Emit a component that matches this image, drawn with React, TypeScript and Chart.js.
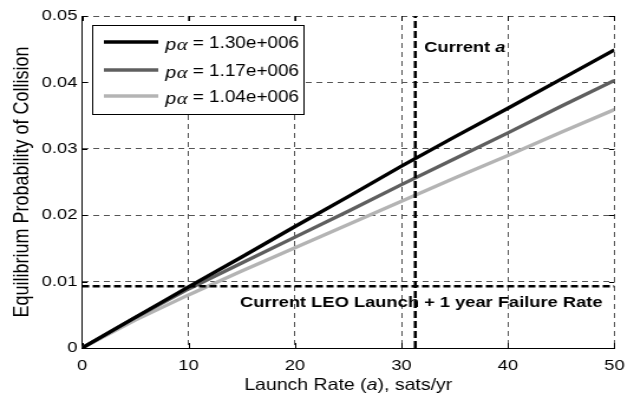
import { useEffect, useRef } from "react";
import { Chart, registerables } from "chart.js";

Chart.register(...registerables);

// Launch rate samples (sats/yr)
const launchRates = [0, 5, 10, 15, 20, 25, 30, 35, 40, 45, 50];

// Equilibrium probability of collision for each p_alpha value
const collisionHigh = [0, 0.0046, 0.0092, 0.0137, 0.0183, 0.0228, 0.0274, 0.0318, 0.0361, 0.0405, 0.0449];
const collisionMid = [0, 0.0046, 0.0089, 0.0128, 0.0167, 0.0206, 0.0246, 0.0285, 0.0324, 0.0364, 0.0403];
const collisionLow = [0, 0.0042, 0.008, 0.0116, 0.0151, 0.0186, 0.0221, 0.0256, 0.029, 0.0325, 0.0359];

const pAlphaLabels = ["1.30e+006", "1.17e+006", "1.04e+006"];
const seriesColors = ["#000000", "#5f5f5f", "#b4b4b4"];

// Reference markers
const currentLaunchRate = 31.3;
const currentFailureRate = 0.0093;

const xTicks = [0, 10, 20, 30, 40, 50];
const xTickLabels = ["0", "10", "20", "30", "40", "50"];
const yTicks = [0, 0.01, 0.02, 0.03, 0.04, 0.05];
const yTickLabels = ["0", "0.01", "0.02", "0.03", "0.04", "0.05"];

const yAxisTitle = "Equilibrium Probability of Collision";
const currentRateLabel = "Current ";
const failureRateLabel = "Current LEO Launch + 1 year Failure Rate";

// The figure is rendered on a narrower canvas and widened horizontally.
const PAGE_W = 634;
const PAGE_H = 403;
const CANVAS_W = 537;
const STRETCH = PAGE_W / CANVAS_W;

const SANS = '"Liberation Sans", Arial, sans-serif';

const overlayPlugin = {
  id: "figureOverlay",
  beforeDatasetsDraw(chart: any) {
    const { ctx, chartArea } = chart;
    const xs = chart.scales.x;
    const ys = chart.scales.y;
    ctx.save();
    ctx.strokeStyle = "#000";
    ctx.lineWidth = 1;
    ctx.beginPath();
    for (const v of xTicks) {
      const px = Math.round(xs.getPixelForValue(v)) + 0.5;
      ctx.moveTo(px, chartArea.bottom);
      ctx.lineTo(px, chartArea.bottom - 5);
      ctx.moveTo(px, chartArea.top);
      ctx.lineTo(px, chartArea.top + 5);
    }
    for (const v of yTicks) {
      const py = Math.round(ys.getPixelForValue(v)) + 0.5;
      ctx.moveTo(chartArea.left, py);
      ctx.lineTo(chartArea.left + 4.5, py);
      ctx.moveTo(chartArea.right, py);
      ctx.lineTo(chartArea.right - 4.5, py);
    }
    ctx.stroke();
    ctx.restore();
  },
  afterDatasetsDraw(chart: any) {
    const { ctx, chartArea } = chart;
    const xs = chart.scales.x;
    const ys = chart.scales.y;
    ctx.save();
    ctx.fillStyle = "#000";

    // Legend box
    const bx = 78, by = 25, bw = 179, bh = 89;
    ctx.fillStyle = "#fff";
    ctx.fillRect(bx, by, bw, bh);
    ctx.strokeStyle = "#000";
    ctx.lineWidth = 1;
    ctx.strokeRect(bx + 0.5, by + 0.5, bw, bh);
    const rowsY = [42, 70, 96];
    pAlphaLabels.forEach((lbl, i) => {
      const y = rowsY[i];
      ctx.strokeStyle = seriesColors[i];
      ctx.lineWidth = 3.5;
      ctx.beginPath();
      ctx.moveTo(88, y);
      ctx.lineTo(134, y);
      ctx.stroke();
      ctx.fillStyle = "#000";
      ctx.textBaseline = "middle";
      ctx.textAlign = "left";
      let x = 140;
      const ty = y + 2;
      ctx.font = `italic 16.5px ${SANS}`;
      ctx.fillText("p", x, ty + 1);
      x += ctx.measureText("p").width + 0.5;
      ctx.font = 'italic 17.5px "Liberation Serif", serif';
      ctx.fillText("\u03b1", x, ty + 1);
      x += ctx.measureText("\u03b1").width;
      ctx.font = `16px ${SANS}`;
      ctx.fillText(" = " + lbl, x, ty);
    });

    // Annotation texts
    ctx.fillStyle = "#000";
    ctx.textBaseline = "middle";
    ctx.textAlign = "left";
    ctx.font = `bold 15.5px ${SANS}`;
    const ax = xs.getPixelForValue(currentLaunchRate) + 7.5;
    ctx.fillText(currentRateLabel, ax, 48);
    const aw = ctx.measureText(currentRateLabel).width;
    ctx.font = `italic bold 15.5px ${SANS}`;
    ctx.fillText("a", ax + aw, 48);

    ctx.font = `bold 15.5px ${SANS}`;
    ctx.textAlign = "right";
    ctx.fillText(failureRateLabel, chartArea.right - 10, ys.getPixelForValue(currentFailureRate) + 16);

    // X axis title with italic symbol
    const titleSize = 16.5;
    ctx.textAlign = "left";
    ctx.font = `${titleSize}px ${SANS}`;
    const partA = "Launch Rate (";
    const partB = "a";
    const partC = "), sats/yr";
    const wA = ctx.measureText(partA).width;
    const wC = ctx.measureText(partC).width;
    ctx.font = `italic ${titleSize}px ${SANS}`;
    const wB = ctx.measureText(partB).width;
    const cx = (chartArea.left + chartArea.right) / 2;
    let tx = cx - (wA + wB + wC) / 2;
    const tyTitle = 385;
    ctx.font = `${titleSize}px ${SANS}`;
    ctx.fillText(partA, tx, tyTitle);
    tx += wA;
    ctx.font = `italic ${titleSize}px ${SANS}`;
    ctx.fillText(partB, tx, tyTitle);
    tx += wB;
    ctx.font = `${titleSize}px ${SANS}`;
    ctx.fillText(partC, tx, tyTitle);

    // Y axis title
    ctx.save();
    ctx.translate(19, (chartArea.top + chartArea.bottom) / 2);
    ctx.rotate(-Math.PI / 2);
    ctx.textAlign = "center";
    ctx.font = `18px ${SANS}`;
    ctx.fillText(yAxisTitle, 0, 0);
    ctx.restore();

    ctx.restore();
  },
};

const gridColor = (ctx: any) => (ctx.tick && ctx.tick.value === 0 ? "rgba(0,0,0,0)" : "#555555");

export default function App() {
  const canvasRef = useRef<HTMLCanvasElement | null>(null);

  useEffect(() => {
    const canvas = canvasRef.current;
    if (!canvas) return;
    const toPoints = (vals: number[]) => launchRates.map((x, i) => ({ x, y: vals[i] }));
    const chart = new Chart(canvas, {
      type: "line",
      data: {
        datasets: [
          {
            label: "Current a",
            data: [
              { x: currentLaunchRate, y: yTicks[0] },
              { x: currentLaunchRate, y: yTicks[yTicks.length - 1] },
            ],
            borderColor: "#000",
            borderWidth: 2.6,
            borderDash: [7, 3],
            pointRadius: 0,
            fill: false,
          },
          {
            label: failureRateLabel,
            data: [
              { x: xTicks[0], y: currentFailureRate },
              { x: xTicks[xTicks.length - 1], y: currentFailureRate },
            ],
            borderColor: "#000",
            borderWidth: 2.6,
            borderDash: [6, 3],
            pointRadius: 0,
            fill: false,
          },
          {
            label: "p\u03b1 = " + pAlphaLabels[0],
            data: toPoints(collisionHigh),
            borderColor: seriesColors[0],
            borderWidth: 3.4,
            pointRadius: 0,
            fill: false,
          },
          {
            label: "p\u03b1 = " + pAlphaLabels[1],
            data: toPoints(collisionMid),
            borderColor: seriesColors[1],
            borderWidth: 3.4,
            pointRadius: 0,
            fill: false,
          },
          {
            label: "p\u03b1 = " + pAlphaLabels[2],
            data: toPoints(collisionLow),
            borderColor: seriesColors[2],
            borderWidth: 3.4,
            pointRadius: 0,
            fill: false,
          },
        ],
      },
      options: {
        responsive: false,
        animation: false,
        events: [],
        layout: { padding: { top: 16, right: 11, bottom: 0, left: 0 } },
        plugins: {
          legend: { display: false },
          tooltip: { enabled: false },
          title: { display: false },
        },
        scales: {
          x: {
            type: "linear",
            min: 0,
            max: 50,
            afterBuildTicks: (s: any) => {
              s.ticks = xTicks.map((v) => ({ value: v }));
            },
            afterFit: (s: any) => {
              s.height = 55;
            },
            ticks: {
              callback: (_v: any, i: number) => xTickLabels[i],
              color: "#000",
              font: { family: SANS, size: 15.5 },
              padding: 8,
              maxRotation: 0,
              autoSkip: false,
            },
            grid: { color: gridColor, lineWidth: 1, drawTicks: false },
            border: { display: true, color: "#000", width: 1, dash: [5, 4] },
          },
          y: {
            type: "linear",
            min: 0,
            max: 0.05,
            afterBuildTicks: (s: any) => {
              s.ticks = yTicks.map((v) => ({ value: v }));
            },
            afterFit: (s: any) => {
              s.width = 69.5;
            },
            ticks: {
              callback: (_v: any, i: number) => yTickLabels[i],
              color: "#000",
              font: { family: SANS, size: 15.5 },
              padding: 4,
              autoSkip: false,
            },
            grid: { color: gridColor, lineWidth: 1, drawTicks: false },
            border: { display: true, color: "#000", width: 1, dash: [5, 4] },
          },
        },
      },
      plugins: [overlayPlugin],
    });
    return () => chart.destroy();
  }, []);

  return (
    <div
      style={{
        position: "fixed",
        left: 0,
        top: 0,
        width: PAGE_W,
        height: PAGE_H,
        overflow: "hidden",
        background: "#fff",
      }}
    >
      <canvas
        ref={canvasRef}
        width={CANVAS_W}
        height={PAGE_H}
        style={{
          width: CANVAS_W,
          height: PAGE_H,
          transform: `scaleX(${STRETCH})`,
          transformOrigin: "0 0",
        }}
      />
    </div>
  );
}
